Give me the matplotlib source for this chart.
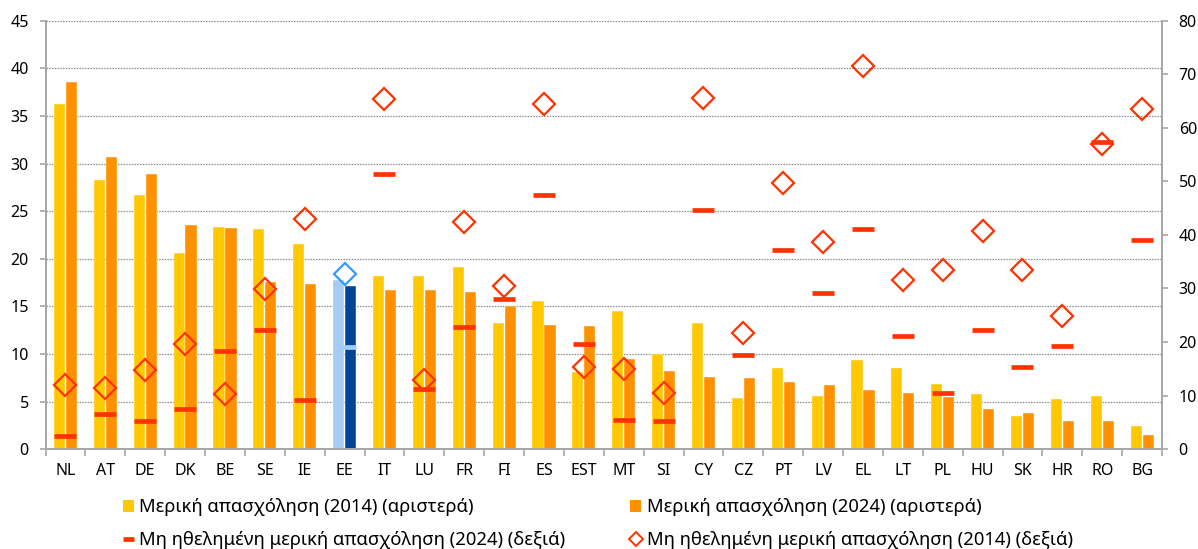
import matplotlib
matplotlib.use('Agg')
import matplotlib.pyplot as plt
import numpy as np
from matplotlib.lines import Line2D
from matplotlib.patches import Patch

countries = ['NL', 'AT', 'DE', 'DK', 'BE', 'SE', 'IE', 'EE', 'IT', 'LU', 'FR', 'FI', 'ES', 'EST',
             'MT', 'SI', 'CY', 'CZ', 'PT', 'LV', 'EL', 'LT', 'PL', 'HU', 'SK', 'HR', 'RO', 'BG']
pt_2014 = [36.3, 28.3, 26.7, 20.6, 23.3, 23.1, 21.6, 17.8, 18.2, 18.2, 19.1, 13.3, 15.6, 8.1,
           14.5, 10.0, 13.3, 5.4, 8.5, 5.6, 9.4, 8.5, 6.8, 5.8, 3.5, 5.3, 5.6, 2.4]
pt_2024 = [38.6, 30.7, 28.9, 23.5, 23.2, 17.6, 17.3, 17.1, 16.7, 16.7, 16.5, 15.0, 13.0, 12.9,
           9.5, 8.2, 7.6, 7.5, 7.0, 6.7, 6.2, 5.9, 5.5, 4.2, 3.8, 3.0, 2.9, 1.5]
invol_2024 = [2.5, 6.6, 5.3, 7.4, 18.4, 22.3, 9.2, 19.0, 51.3, 11.3, 22.9, 28.1, 47.4, 19.7,
              5.5, 5.3, 44.6, 17.6, 37.1, 29.2, 41.2, 21.2, 10.5, 22.3, 15.4, 19.3, 57.3, 39.0]
invol_2014 = [12.0, 11.5, 14.7, 19.6, 10.2, 29.9, 42.9, 32.7, 65.4, 12.9, 42.4, 30.4, 64.4, 15.4,
              14.9, 10.5, 65.5, 21.6, 49.7, 38.6, 71.6, 31.5, 33.4, 40.8, 33.4, 24.8, 57.0, 63.6]
highlight = 'EE'

labels = ['Μερική απασχόληση (2014) (αριστερά)',
          'Μερική απασχόληση (2024) (αριστερά)',
          'Μη ηθελημένη μερική απασχόληση (2024) (δεξιά)',
          'Μη ηθελημένη μερική απασχόληση (2014) (δεξιά)']

C14, C24, CRED = '#FFC800', '#FF9100', '#FF3300'
H14, H24, HDASH, HDIA = '#A6CBF5', '#004494', '#A6CBF5', '#3399FF'
GREY = '#A6A6A6'

plt.rcParams['font.family'] = ['Noto Sans', 'DejaVu Sans']

fig = plt.figure(figsize=(11.98, 5.49), dpi=100)
ax = fig.add_axes([0.038, 0.182, 0.932, 0.780])
ax2 = ax.twinx()

x = np.arange(len(countries))
is_h = [c == highlight for c in countries]
col14 = [H14 if h else C14 for h in is_h]
col24 = [H24 if h else C24 for h in is_h]
w = 0.28
ax.bar(x - 0.15, pt_2014, w, color=col14, edgecolor='white', linewidth=0.3, zorder=2)
ax.bar(x + 0.15, pt_2024, w, color=col24, edgecolor='white', linewidth=0.3, zorder=2)

for i in range(len(countries)):
    ax2.plot(x[i], invol_2024[i], marker='_', markersize=16.5, markeredgewidth=3.4,
             color=HDASH if is_h[i] else CRED, linestyle='none', zorder=3)
    ax2.plot(x[i], invol_2014[i], marker='D', markersize=11.5, markeredgewidth=1.6,
             markerfacecolor='none', markeredgecolor=HDIA if is_h[i] else CRED,
             linestyle='none', zorder=4)

ax.set_xlim(-0.5, len(countries) - 0.5)
ax.set_ylim(0, 45)
ax2.set_ylim(0, 80)
ax.set_yticks(np.arange(0, 46, 5))
ax2.set_yticks(np.arange(0, 81, 10))
ax.set_xticks(x)
ax.set_xticklabels(countries, fontsize=11.5)
ax.set_xticks(np.arange(-0.5, len(countries), 1), minor=True)
ax.tick_params(axis='x', which='major', length=0, pad=10)
ax.tick_params(axis='x', which='minor', length=5, color=GREY, width=1.2)
ax.tick_params(axis='y', length=4, color=GREY, width=1.2, labelsize=11.5, pad=8)
ax2.tick_params(axis='y', length=4, color=GREY, width=1.2, labelsize=11.5, pad=8)

ax.yaxis.grid(True, linestyle=(0, (1.2, 1.0)), color='#8C8C8C', linewidth=0.9, zorder=0)
ax.set_axisbelow(True)
for a in (ax, ax2):
    a.spines['top'].set_visible(False)
    for s in ('left', 'right', 'bottom'):
        a.spines[s].set_color(GREY)
        a.spines[s].set_linewidth(1.2)

handles = [Patch(facecolor=C14, edgecolor='none'),
           Line2D([], [], color=CRED, linewidth=3.4, solid_capstyle='butt'),
           Patch(facecolor=C24, edgecolor='none'),
           Line2D([], [], marker='D', markersize=7, markerfacecolor='none',
                  markeredgecolor=CRED, markeredgewidth=1.4, linestyle='none')]
hl = [labels[0], labels[2], labels[1], labels[3]]
fig.legend(handles, hl, ncol=2, loc='center', bbox_to_anchor=(0.499, 0.0464),
           frameon=False, fontsize=13.3, handlelength=0.6, handleheight=0.6,
           handletextpad=0.3, columnspacing=3.5, labelspacing=0.78)

fig.savefig('out.png', dpi=100)
